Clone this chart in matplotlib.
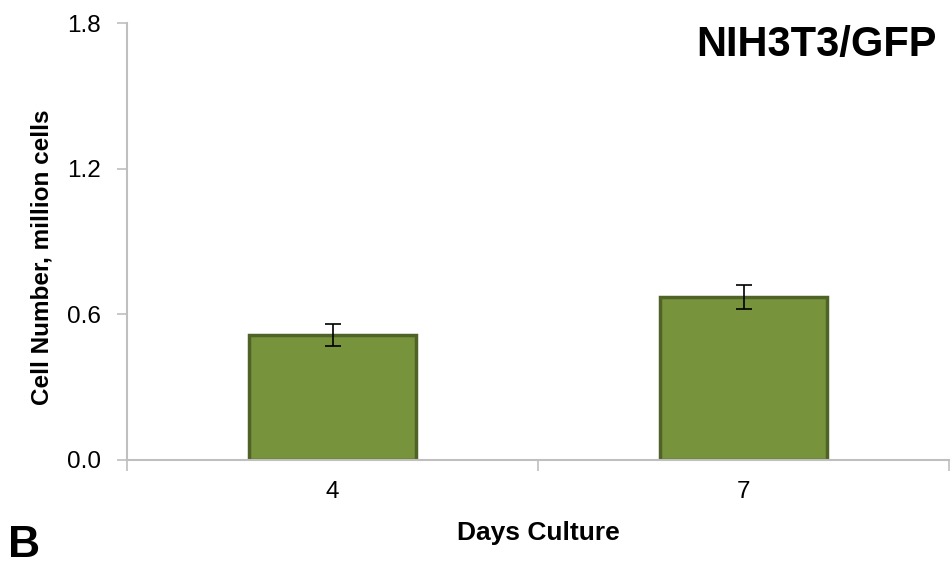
import matplotlib
matplotlib.use("Agg")
import matplotlib.pyplot as plt
import numpy as np

plt.rcParams['font.family'] = ['Liberation Sans', 'DejaVu Sans']

# data
days = ['4', '7']
cells = [0.515, 0.671]
errs = [0.047, 0.050]

fig = plt.figure(figsize=(9.53, 5.71), dpi=100)
ax = fig.add_axes([0.1333, 0.1944, 0.8625, 0.7653])

x = np.arange(len(days))
ax.bar(x, cells, width=0.405, color='#77933C', edgecolor='#4F6228', linewidth=2.5, zorder=2)
ax.errorbar(x, cells, yerr=errs, fmt='none', ecolor='black', elinewidth=1.2,
            capsize=6, capthick=1.2, zorder=3)

ax.set_xlim(-0.5, len(days) - 0.5)
ax.set_ylim(0, 1.8)
ax.set_yticks([0.0, 0.6, 1.2, 1.8])
ax.set_yticklabels(['0.0', '0.6', '1.2', '1.8'])
ax.set_xticks(x)
ax.set_xticklabels(days)
# category boundary ticks like the spreadsheet style
ax.set_xticks([-0.5, 0.5, 1.5], minor=True)
ax.tick_params(axis='x', which='major', length=0, pad=15, labelsize=17.5)
ax.tick_params(axis='x', which='minor', length=8, color='#BFBFBF', width=1.2, direction='out')
ax.tick_params(axis='y', length=7, color='#BFBFBF', width=1.2, direction='out', labelsize=17.5, pad=12)

for s in ['top', 'right']:
    ax.spines[s].set_visible(False)
for s in ['left', 'bottom']:
    ax.spines[s].set_color('#BFBFBF')
    ax.spines[s].set_linewidth(1.5)

ax.set_xlabel('Days Culture', fontsize=19, fontweight='bold', labelpad=13)
ax.set_ylabel('Cell Number, million cells', fontsize=17.5, fontweight='bold')
ax.yaxis.set_label_coords(-0.09, 0.465)

fig.text(0.983, 0.922, 'NIH3T3/GFP', ha='right', va='center', fontsize=30, fontweight='bold')
fig.text(0.008, 0.008, 'B', ha='left', va='bottom', fontsize=32, fontweight='bold')

fig.savefig('out.png', dpi=100)
